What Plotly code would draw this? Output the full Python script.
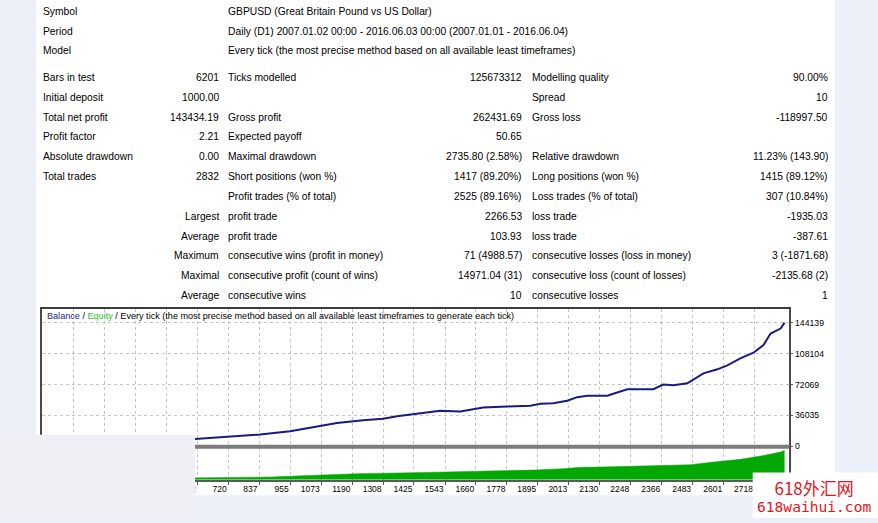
import plotly.graph_objects as go

W, H = 878, 523
FONT = "Liberation Sans, Arial, sans-serif"

# ---------------- report table text ----------------
header_labels = ["Symbol", "Period", "Model"]
header_values = [
    "GBPUSD (Great Britain Pound vs US Dollar)",
    "Daily (D1) 2007.01.02 00:00 - 2016.06.03 00:00 (2007.01.01 - 2016.06.04)",
    "Every tick (the most precise method based on all available least timeframes)",
]

col1_labels = ["Bars in test", "Initial deposit", "Total net profit", "Profit factor",
               "Absolute drawdown", "Total trades", "", "", "", "", "", ""]
col1_values = ["6201", "1000.00", "143434.19", "2.21", "0.00", "2832", "",
               "Largest", "Average", "Maximum", "Maximal", "Average"]
col2_labels = ["Ticks modelled", "", "Gross profit", "Expected payoff", "Maximal drawdown",
               "Short positions (won %)", "Profit trades (% of total)", "profit trade",
               "profit trade", "consecutive wins (profit in money)",
               "consecutive profit (count of wins)", "consecutive wins"]
col2_values = ["125673312", "", "262431.69", "50.65", "2735.80 (2.58%)", "1417 (89.20%)",
               "2525 (89.16%)", "2266.53", "103.93", "71 (4988.57)", "14971.04 (31)", "10"]
col3_labels = ["Modelling quality", "Spread", "Gross loss", "", "Relative drawdown",
               "Long positions (won %)", "Loss trades (% of total)", "loss trade", "loss trade",
               "consecutive losses (loss in money)", "consecutive loss (count of losses)",
               "consecutive losses"]
col3_values = ["90.00%", "10", "-118997.50", "", "11.23% (143.90)", "1415 (89.12%)",
               "307 (10.84%)", "-1935.03", "-387.61", "3 (-1871.68)", "-2135.68 (2)", "1"]

# ---------------- chart data ----------------
trade_no = [0, 150, 300, 450, 594, 727, 841, 955, 1042, 1133, 1232, 1308, 1361, 1437, 1525,
            1601, 1688, 1779, 1867, 1905, 1954, 2007, 2045, 2083, 2159, 2182, 2235, 2284,
            2334, 2372, 2410, 2463, 2486, 2524, 2577, 2615, 2664, 2714, 2752, 2779, 2817, 2832]
balance = [1000, 2500, 4300, 6400, 8486, 11624, 13600, 17436, 22434, 27084, 30222, 32198,
           34872, 37545, 41500, 40684, 45334, 46496, 47300, 49634, 50332, 53118, 57306,
           58934, 58934, 61258, 66604, 66604, 66604, 72069, 71254, 73580, 78230, 85208,
           89852, 94500, 102640, 109266, 118214, 131700, 137500, 144434]

lot_trade_no = [1, 300, 600, 681, 879, 1004, 1107, 1209, 1422, 1551, 1703, 1878, 1992, 2057,
                2133, 2349, 2475, 2562, 2665, 2741, 2817, 2832]
lots = [0.10, 0.40, 0.70, 0.79, 1.28, 1.97, 2.46, 2.95, 3.44, 3.74, 4.23, 4.72, 5.41, 6.05,
        6.20, 7.04, 7.38, 8.66, 9.99, 11.61, 13.58, 14.40]

x_tick_values = [131, 249, 367, 484, 602, 720, 837, 955, 1073, 1190, 1308, 1425, 1543,
                 1660, 1778, 1895, 2013, 2130, 2248, 2366, 2483, 2601, 2718]
y_tick_values = [0, 36035, 72069, 108104, 144139]


def px(x):
    return x / W


def py(y):
    return 1 - y / H


fig = go.Figure()

fig.add_trace(go.Scatter(
    x=lot_trade_no, y=lots, xaxis="x2", yaxis="y2", mode="lines",
    line=dict(width=0.5, color="#04a804"),
    fill="tozeroy", fillcolor="#04a804", hoverinfo="skip", showlegend=False))

fig.add_trace(go.Scatter(
    x=trade_no, y=balance, xaxis="x", yaxis="y", mode="lines",
    line=dict(width=2, color="#1a1a84"), hoverinfo="skip", showlegend=False))

grid = dict(showgrid=True, gridcolor="#c4c4c4", griddash="3px,3px", gridwidth=1)
x_range = [12, 2847]
x_dom = [px(41.7), px(788.5)]

fig.update_layout(
    width=W, height=H, autosize=False,
    margin=dict(l=0, r=0, t=0, b=0),
    paper_bgcolor="#ecf1f9", plot_bgcolor="#ffffff",
    showlegend=False,
    xaxis=dict(domain=x_dom, range=x_range, anchor="y", tickvals=x_tick_values,
               showticklabels=False, ticks="", showline=True, mirror=True,
               linecolor="#3c3c3c", linewidth=1.5, zeroline=False, **grid),
    yaxis=dict(domain=[py(450.5), py(311.5)], range=[0, 160926], anchor="x", side="right",
               tickvals=y_tick_values, ticktext=[str(v) for v in y_tick_values],
               ticks="outside", ticklen=3, tickcolor="#555", showline=True, mirror=True,
               linecolor="#4a4a4a", linewidth=1.5, zeroline=False,
               tickfont=dict(family=FONT, size=8.7, color="#000"), **grid),
    xaxis2=dict(domain=x_dom, range=x_range, anchor="y2", tickvals=x_tick_values,
                ticktext=[str(v) for v in x_tick_values], ticks="outside", ticklen=3,
                tickcolor="#555", ticklabelposition="outside left",
                showline=True, linecolor="#5a5a5a", linewidth=2, zeroline=False,
                tickfont=dict(family=FONT, size=8.5, color="#000"), **grid),
    yaxis2=dict(domain=[py(484.3), py(452.5)], range=[0, 15.5], anchor="x2", side="right",
                showticklabels=False, ticks="", showgrid=False, showline=True, mirror=True,
                linecolor="#4a4a4a", linewidth=1.5, zeroline=False),
)

shapes = [
    # white report panel
    dict(type="rect", xref="paper", yref="paper", x0=px(36), x1=px(835), y0=py(500), y1=1,
         fillcolor="#ffffff", line=dict(width=0), layer="below"),
    # gray separator between panes
    dict(type="rect", xref="paper", yref="paper", x0=px(41), x1=px(789.5), y0=py(453), y1=py(449),
         fillcolor="#7c7c7c", line=dict(width=0), layer="above"),
    # overlapping light box at lower-left
    dict(type="rect", xref="paper", yref="paper", x0=0, x1=px(195), y0=0, y1=py(439),
         fillcolor="#eef0f5", line=dict(width=0), layer="above"),
    # watermark box
    dict(type="rect", xref="paper", yref="paper", x0=px(752.7), x1=1, y0=0, y1=py(477),
         fillcolor="#ffffff", line=dict(width=0), layer="above"),
]
fig.update_layout(shapes=shapes)


def ann(text, x, y, anchor, size=10.3, color="#000", family=FONT):
    return dict(text=text, x=px(x), y=py(y), xref="paper", yref="paper", xanchor=anchor,
                yanchor="middle", showarrow=False, borderpad=0,
                font=dict(family=family, size=size, color=color))


anns = []
for i, (lab, val) in enumerate(zip(header_labels, header_values)):
    yy = 12 + 19.7 * i
    anns.append(ann(lab, 42, yy, "left"))
    anns.append(ann(val, 227, yy, "left"))

for i in range(len(col1_labels)):
    yy = 78.3 + 20 * i
    if col1_labels[i]:
        anns.append(ann(col1_labels[i], 42, yy, "left"))
    if col1_values[i]:
        anns.append(ann(col1_values[i], 219.5, yy, "right"))
    if col2_labels[i]:
        anns.append(ann(col2_labels[i], 227, yy, "left"))
    if col2_values[i]:
        anns.append(ann(col2_values[i], 523, yy, "right"))
    if col3_labels[i]:
        anns.append(ann(col3_labels[i], 531, yy, "left"))
    if col3_values[i]:
        anns.append(ann(col3_values[i], 829, yy, "right"))

title_html = ('<span style="color:#1e1e96">Balance</span> / '
              '<span style="color:#2fc42f">Equity</span> / Every tick (the most precise method '
              'based on all available least timeframes to generate each tick)')
anns.append(ann(title_html, 45.5, 319.5, "left", size=9.1))

wm_html = ('<span style="font-family:Noto Sans CJK SC, sans-serif;font-size:17px">618外汇网</span>'
           '<br><span style="font-family:DejaVu Sans Mono, monospace;font-size:14.6px">'
           '618waihui.com</span>')
anns.append(ann(wm_html, 814, 500, "center", size=13, color="#e3141c"))

fig.update_layout(annotations=anns)

fig.write_html("out.html", config={"displayModeBar": False},
               post_script="document.body.style.margin='0px';")
